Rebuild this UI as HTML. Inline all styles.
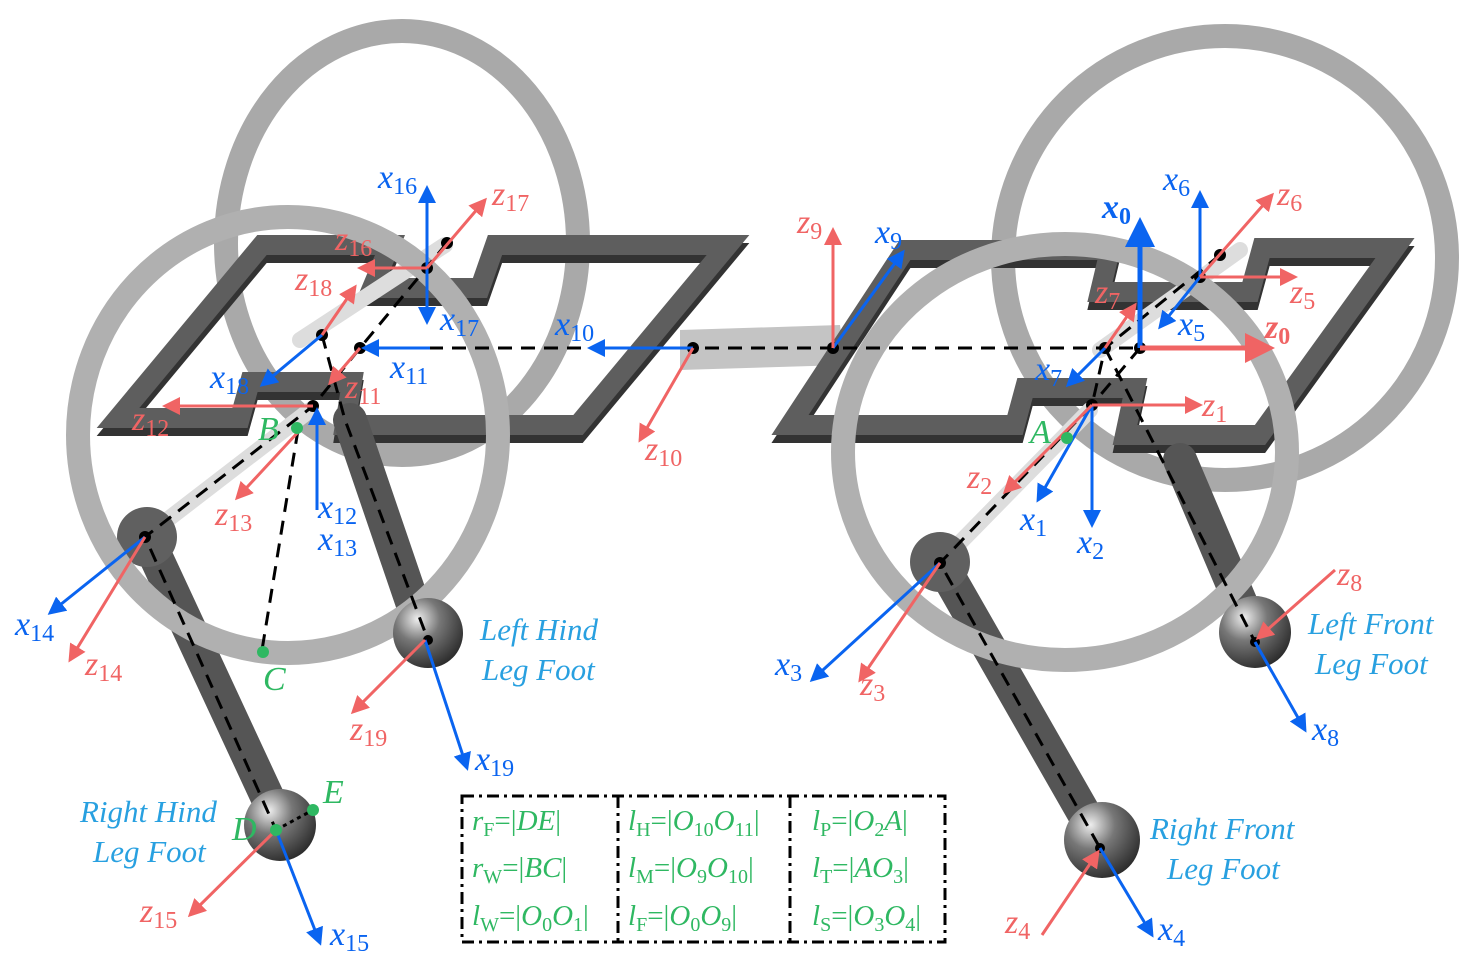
<!DOCTYPE html>
<html><head><meta charset="utf-8"><style>
html,body{margin:0;padding:0;background:#fff}
svg{display:block}
.t{font-family:"Liberation Serif",serif;font-style:italic;font-size:34px}
.s{font-style:normal;font-size:24px}
.b{fill:#0a64f0}.r{fill:#f06464}.g{fill:#2fb862}.c{fill:#28a0e0;font-family:"Liberation Serif",serif;font-style:italic;font-size:31px}
.tb{font-family:"Liberation Serif",serif;font-style:italic;font-size:29px;fill:#2fb862}
.tb .s{font-size:20px}
</style></head><body>
<svg width="1474" height="965" viewBox="0 0 1474 965" xmlns="http://www.w3.org/2000/svg">
<defs>
<marker id="mb" markerWidth="6" markerHeight="6" refX="5" refY="3" orient="auto" markerUnits="strokeWidth"><path d="M0,0 L6,3 L0,6 z" fill="#0a64f0"/></marker>
<marker id="mr" markerWidth="6" markerHeight="6" refX="5" refY="3" orient="auto" markerUnits="strokeWidth"><path d="M0,0 L6,3 L0,6 z" fill="#f06464"/></marker>
<radialGradient id="sp" cx="0.35" cy="0.3" r="0.8"><stop offset="0" stop-color="#eee"/><stop offset="0.4" stop-color="#777"/><stop offset="1" stop-color="#222"/></radialGradient>
</defs>
<!-- back wheels -->
<ellipse cx="402" cy="243" rx="176" ry="212" fill="none" stroke="#a9a9a9" stroke-width="24"/>
<ellipse cx="1225" cy="258" rx="222" ry="222" fill="none" stroke="#a9a9a9" stroke-width="24"/>
<!-- body -->
<path d="M680,330 L840,325 L845,365 L680,370 z" fill="#c4c4c4"/>
<!-- frames -->
<g fill="none" stroke-width="20" stroke-linejoin="miter">
<g stroke="#333" transform="translate(0,8)">
<polygon points="118,418 262,245 390,245 372,288 480,288 495,245 728,245 578,425 345,425 352,382 250,382 240,418"/>
<polygon points="790,425 905,250 1110,250 1100,292 1250,292 1262,248 1395,248 1260,435 1125,435 1135,388 1025,388 1015,425"/>
</g>
<g stroke="#5e5e5e">
<polygon points="118,418 262,245 390,245 372,288 480,288 495,245 728,245 578,425 345,425 352,382 250,382 240,418"/>
<polygon points="790,425 905,250 1110,250 1100,292 1250,292 1262,248 1395,248 1260,435 1125,435 1135,388 1025,388 1015,425"/>
</g>
</g>
<!-- legs -->
<g stroke="#555" stroke-width="34" stroke-linecap="round">
<line x1="148" y1="540" x2="278" y2="820"/>
<line x1="350" y1="420" x2="420" y2="625"/>
<line x1="942" y1="565" x2="1098" y2="838"/>
<line x1="1180" y1="460" x2="1250" y2="625"/>
</g>
<g stroke="#ddd" stroke-width="16" stroke-linecap="round">
<line x1="145" y1="537" x2="310" y2="410"/>
<line x1="940" y1="563" x2="1090" y2="410"/>
<line x1="300" y1="340" x2="445" y2="245"/>
<line x1="1100" y1="350" x2="1240" y2="250"/>
</g>
<circle cx="147" cy="537" r="30" fill="#606060"/>
<circle cx="940" cy="562" r="30" fill="#606060"/>
<!-- front wheels -->
<ellipse cx="288" cy="435" rx="210" ry="218" fill="none" stroke="#b0b0b0" stroke-width="24"/>
<ellipse cx="1065" cy="452" rx="222" ry="208" fill="none" stroke="#b0b0b0" stroke-width="24"/>
<!-- feet -->
<circle cx="280" cy="825" r="36" fill="url(#sp)"/>
<circle cx="428" cy="633" r="35" fill="url(#sp)"/>
<circle cx="1102" cy="840" r="38" fill="url(#sp)"/>
<circle cx="1255" cy="632" r="36" fill="url(#sp)"/>
<!-- dashed -->
<g stroke="#000" stroke-width="3" stroke-dasharray="14,9" fill="none">
<line x1="360" y1="348" x2="1140" y2="348"/>
<polyline points="447,243 360,348 313,406 145,537 276,830"/>
<polyline points="322,335 345,420 428,640"/>
<line x1="298" y1="430" x2="262" y2="650"/>
<polyline points="1220,255 1105,348 1092,405 940,563 1100,848"/>
<polyline points="1105,348 1255,642"/>
<line x1="1140" y1="348" x2="1092" y2="405"/>
<line x1="276" y1="830" x2="313" y2="810" stroke-dasharray="4,4"/>
</g>
<g fill="#000">
<circle cx="447" cy="243" r="6"/><circle cx="427" cy="268" r="6"/><circle cx="322" cy="335" r="6"/><circle cx="360" cy="348" r="6"/><circle cx="313" cy="406" r="6"/><circle cx="145" cy="537" r="6"/><circle cx="693" cy="348" r="6"/><circle cx="833" cy="348" r="6"/><circle cx="428" cy="640" r="5"/>
<circle cx="1220" cy="255" r="6"/><circle cx="1200" cy="277" r="6"/><circle cx="1105" cy="348" r="6"/><circle cx="1140" cy="348" r="6"/><circle cx="1092" cy="405" r="6"/><circle cx="940" cy="563" r="6"/><circle cx="1100" cy="848" r="5"/><circle cx="1255" cy="642" r="5"/>
</g>
<!-- blue arrows -->
<g stroke="#0a64f0" stroke-width="3" marker-end="url(#mb)">
<line x1="427" y1="268" x2="427" y2="188"/>
<line x1="427" y1="268" x2="427" y2="322"/>
<line x1="322" y1="335" x2="262" y2="385"/>
<line x1="430" y1="348" x2="364" y2="348"/>
<line x1="317" y1="510" x2="317" y2="410"/>
<line x1="145" y1="537" x2="50" y2="613"/>
<line x1="693" y1="348" x2="590" y2="348"/>
<line x1="833" y1="348" x2="903" y2="252"/>
<line x1="425" y1="640" x2="467" y2="768"/>
<line x1="276" y1="830" x2="320" y2="943"/>
<line x1="1200" y1="277" x2="1200" y2="193"/>
<line x1="1200" y1="277" x2="1160" y2="327"/>
<line x1="1105" y1="348" x2="1068" y2="385"/>
<line x1="1092" y1="405" x2="1092" y2="525"/>
<line x1="1092" y1="405" x2="1038" y2="500"/>
<line x1="940" y1="563" x2="812" y2="680"/>
<line x1="1255" y1="642" x2="1305" y2="730"/>
<line x1="1100" y1="848" x2="1152" y2="935"/>
</g>
<line x1="1140" y1="348" x2="1140" y2="222" stroke="#0a64f0" stroke-width="5" marker-end="url(#mb)"/>
<!-- red arrows -->
<g stroke="#f06464" stroke-width="3" marker-end="url(#mr)">
<line x1="427" y1="268" x2="485" y2="200"/>
<line x1="427" y1="268" x2="360" y2="268"/>
<line x1="322" y1="335" x2="355" y2="287"/>
<line x1="360" y1="348" x2="330" y2="383"/>
<line x1="313" y1="406" x2="165" y2="406"/>
<line x1="300" y1="430" x2="237" y2="498"/>
<line x1="145" y1="537" x2="70" y2="660"/>
<line x1="693" y1="348" x2="640" y2="440"/>
<line x1="833" y1="348" x2="833" y2="230"/>
<line x1="425" y1="640" x2="353" y2="712"/>
<line x1="276" y1="830" x2="190" y2="915"/>
<line x1="1200" y1="277" x2="1272" y2="195"/>
<line x1="1200" y1="277" x2="1295" y2="277"/>
<line x1="1105" y1="348" x2="1135" y2="305"/>
<line x1="1092" y1="405" x2="1200" y2="405"/>
<line x1="1092" y1="405" x2="1005" y2="492"/>
<line x1="940" y1="563" x2="860" y2="680"/>
<line x1="1335" y1="570" x2="1258" y2="638"/>
<line x1="1042" y1="935" x2="1098" y2="852"/>
</g>
<line x1="1140" y1="348" x2="1270" y2="348" stroke="#f06464" stroke-width="5" marker-end="url(#mr)"/>
<!-- green points -->
<g fill="#2fb862"><circle cx="297" cy="428" r="6"/><circle cx="263" cy="652" r="6"/><circle cx="1067" cy="438" r="6"/><circle cx="276" cy="830" r="6"/><circle cx="313" cy="810" r="6"/></g>
<g class="t g"><text x="258" y="440">B</text><text x="263" y="690">C</text><text x="1030" y="443">A</text><text x="232" y="840">D</text><text x="323" y="803">E</text></g>
<!-- labels -->
<g class="t b">
<text x="378" y="188">x<tspan class="s" dy="6">16</tspan></text>
<text x="440" y="330">x<tspan class="s" dy="6">17</tspan></text>
<text x="210" y="388">x<tspan class="s" dy="6">18</tspan></text>
<text x="390" y="378">x<tspan class="s" dy="6">11</tspan></text>
<text x="318" y="518">x<tspan class="s" dy="6">12</tspan></text>
<text x="318" y="550">x<tspan class="s" dy="6">13</tspan></text>
<text x="15" y="635">x<tspan class="s" dy="6">14</tspan></text>
<text x="555" y="335">x<tspan class="s" dy="6">10</tspan></text>
<text x="875" y="243">x<tspan class="s" dy="6">9</tspan></text>
<text x="475" y="770">x<tspan class="s" dy="6">19</tspan></text>
<text x="330" y="945">x<tspan class="s" dy="6">15</tspan></text>
<text x="1163" y="190">x<tspan class="s" dy="6">6</tspan></text>
<text x="1178" y="335">x<tspan class="s" dy="6">5</tspan></text>
<text x="1035" y="380">x<tspan class="s" dy="6">7</tspan></text>
<text x="1020" y="530">x<tspan class="s" dy="6">1</tspan></text>
<text x="1077" y="553">x<tspan class="s" dy="6">2</tspan></text>
<text x="775" y="675">x<tspan class="s" dy="6">3</tspan></text>
<text x="1312" y="740">x<tspan class="s" dy="6">8</tspan></text>
<text x="1158" y="940">x<tspan class="s" dy="6">4</tspan></text>
<text x="1102" y="218" font-weight="bold">x<tspan class="s" dy="6" font-weight="bold">0</tspan></text>
</g>
<g class="t r">
<text x="492" y="205">z<tspan class="s" dy="6">17</tspan></text>
<text x="335" y="250">z<tspan class="s" dy="6">16</tspan></text>
<text x="295" y="290">z<tspan class="s" dy="6">18</tspan></text>
<text x="345" y="398">z<tspan class="s" dy="6">11</tspan></text>
<text x="132" y="430">z<tspan class="s" dy="6">12</tspan></text>
<text x="215" y="525">z<tspan class="s" dy="6">13</tspan></text>
<text x="85" y="675">z<tspan class="s" dy="6">14</tspan></text>
<text x="645" y="460">z<tspan class="s" dy="6">10</tspan></text>
<text x="797" y="233">z<tspan class="s" dy="6">9</tspan></text>
<text x="350" y="740">z<tspan class="s" dy="6">19</tspan></text>
<text x="140" y="922">z<tspan class="s" dy="6">15</tspan></text>
<text x="1277" y="205">z<tspan class="s" dy="6">6</tspan></text>
<text x="1290" y="303">z<tspan class="s" dy="6">5</tspan></text>
<text x="1095" y="303">z<tspan class="s" dy="6">7</tspan></text>
<text x="1202" y="416">z<tspan class="s" dy="6">1</tspan></text>
<text x="967" y="488">z<tspan class="s" dy="6">2</tspan></text>
<text x="860" y="695">z<tspan class="s" dy="6">3</tspan></text>
<text x="1337" y="585">z<tspan class="s" dy="6">8</tspan></text>
<text x="1005" y="933">z<tspan class="s" dy="6">4</tspan></text>
<text x="1265" y="338" font-weight="bold">z<tspan class="s" dy="6" font-weight="bold">0</tspan></text>
</g>
<g class="c">
<text x="480" y="640">Left Hind</text><text x="482" y="680">Leg Foot</text>
<text x="80" y="822">Right Hind</text><text x="93" y="862">Leg Foot</text>
<text x="1308" y="634">Left Front</text><text x="1315" y="674">Leg Foot</text>
<text x="1150" y="839">Right Front</text><text x="1167" y="879">Leg Foot</text>
</g>
<!-- table -->
<g stroke="#000" stroke-width="3" fill="none" stroke-dasharray="12,5,3,5">
<rect x="462" y="796" width="483" height="146"/>
<line x1="618" y1="796" x2="618" y2="942"/>
<line x1="790" y1="796" x2="790" y2="942"/>
</g>
<g class="tb">
<text x="472" y="830">r<tspan class="s" dy="6">F</tspan><tspan dy="-6" font-style="normal">=|</tspan>DE<tspan font-style="normal">|</tspan></text>
<text x="472" y="877">r<tspan class="s" dy="6">W</tspan><tspan dy="-6" font-style="normal">=|</tspan>BC<tspan font-style="normal">|</tspan></text>
<text x="472" y="925">l<tspan class="s" dy="6">W</tspan><tspan dy="-6" font-style="normal">=|</tspan>O<tspan class="s" dy="6">0</tspan><tspan dy="-6">O</tspan><tspan class="s" dy="6">1</tspan><tspan dy="-6" font-style="normal">|</tspan></text>
<text x="628" y="830">l<tspan class="s" dy="6">H</tspan><tspan dy="-6" font-style="normal">=|</tspan>O<tspan class="s" dy="6">10</tspan><tspan dy="-6">O</tspan><tspan class="s" dy="6">11</tspan><tspan dy="-6" font-style="normal">|</tspan></text>
<text x="628" y="877">l<tspan class="s" dy="6">M</tspan><tspan dy="-6" font-style="normal">=|</tspan>O<tspan class="s" dy="6">9</tspan><tspan dy="-6">O</tspan><tspan class="s" dy="6">10</tspan><tspan dy="-6" font-style="normal">|</tspan></text>
<text x="628" y="925">l<tspan class="s" dy="6">F</tspan><tspan dy="-6" font-style="normal">=|</tspan>O<tspan class="s" dy="6">0</tspan><tspan dy="-6">O</tspan><tspan class="s" dy="6">9</tspan><tspan dy="-6" font-style="normal">|</tspan></text>
<text x="812" y="830">l<tspan class="s" dy="6">P</tspan><tspan dy="-6" font-style="normal">=|</tspan>O<tspan class="s" dy="6">2</tspan><tspan dy="-6">A</tspan><tspan font-style="normal">|</tspan></text>
<text x="812" y="877">l<tspan class="s" dy="6">T</tspan><tspan dy="-6" font-style="normal">=|</tspan>AO<tspan class="s" dy="6">3</tspan><tspan dy="-6" font-style="normal">|</tspan></text>
<text x="812" y="925">l<tspan class="s" dy="6">S</tspan><tspan dy="-6" font-style="normal">=|</tspan>O<tspan class="s" dy="6">3</tspan><tspan dy="-6">O</tspan><tspan class="s" dy="6">4</tspan><tspan dy="-6" font-style="normal">|</tspan></text>
</g>
</svg>
</body></html>
